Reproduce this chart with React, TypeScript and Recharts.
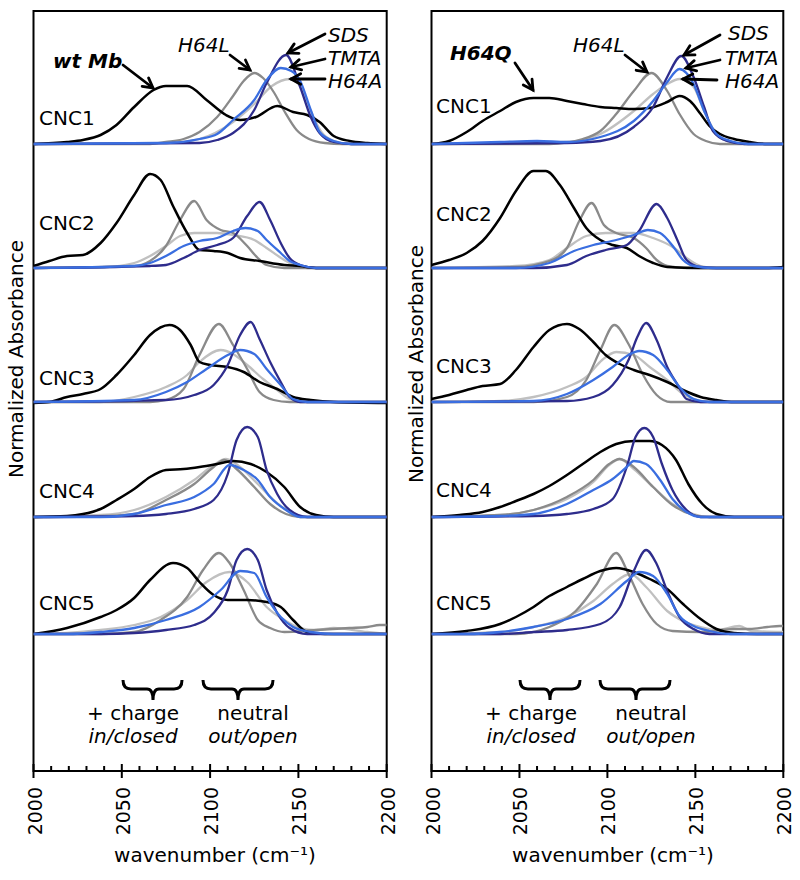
import { LineChart, Line, XAxis, YAxis, ReferenceArea } from 'recharts'

type Pt = [number, number]

// [wavenumber (cm-1), normalized absorbance]

// ---- wt Mb panel ----
const wt_CNC1_self: Pt[] = [[2000,0],[2019,0.02],[2028,0.04],[2038,0.09],[2047,0.19],[2057,0.37],[2068,0.54],[2075,0.58],[2087,0.58],[2098,0.44],[2109,0.29],[2117,0.24],[2126,0.27],[2138,0.38],[2147,0.32],[2155,0.29],[2162,0.22],[2170,0.08],[2179,0.03],[2189,0.01],[2200,0]]
const wt_CNC1_H64L: Pt[] = [[2000,0],[2066,0],[2075,0.02],[2085,0.05],[2094,0.12],[2104,0.27],[2113,0.48],[2119,0.63],[2125,0.71],[2130,0.66],[2136,0.52],[2142,0.33],[2149,0.14],[2156,0.05],[2165,0.01],[2175,0],[2200,0]]
const wt_CNC1_H64A: Pt[] = [[2000,0],[2075,0.01],[2094,0.05],[2113,0.22],[2125,0.40],[2135,0.58],[2145,0.65],[2151,0.58],[2157,0.33],[2163,0.12],[2170,0.03],[2180,0],[2200,0]]
const wt_CNC1_TMTA: Pt[] = [[2000,0],[2075,0.01],[2094,0.05],[2104,0.10],[2113,0.24],[2125,0.44],[2132,0.64],[2140,0.76],[2146,0.73],[2151,0.63],[2157,0.34],[2162,0.12],[2170,0.03],[2180,0],[2200,0]]
const wt_CNC1_SDS: Pt[] = [[2000,0],[2094,0.01],[2104,0.04],[2113,0.11],[2125,0.34],[2132,0.61],[2143,0.89],[2151,0.57],[2157,0.27],[2162,0.11],[2170,0.02],[2180,0],[2200,0]]

const wt_CNC2_self: Pt[] = [[2000,0.02],[2009,0.07],[2019,0.12],[2028,0.13],[2038,0.25],[2047,0.45],[2057,0.73],[2066,0.94],[2072,0.88],[2079,0.62],[2087,0.35],[2094,0.18],[2102,0.17],[2110,0.15],[2117,0.10],[2128,0.07],[2142,0.03],[2151,0.02],[2160,0],[2200,0]]
const wt_CNC2_H64L: Pt[] = [[2000,0],[2057,0.02],[2066,0.07],[2075,0.22],[2083,0.48],[2091,0.67],[2098,0.48],[2106,0.38],[2113,0.35],[2121,0.22],[2127,0.10],[2132,0.03],[2142,0],[2200,0]]
const wt_CNC2_H64A: Pt[] = [[2000,0],[2040,0.01],[2057,0.05],[2066,0.12],[2075,0.22],[2083,0.32],[2091,0.35],[2104,0.35],[2113,0.33],[2125,0.28],[2132,0.20],[2142,0.08],[2147,0.03],[2155,0],[2200,0]]
const wt_CNC2_TMTA: Pt[] = [[2000,0],[2057,0.02],[2066,0.05],[2075,0.12],[2085,0.22],[2094,0.27],[2104,0.30],[2113,0.37],[2120,0.40],[2127,0.37],[2132,0.28],[2140,0.15],[2145,0.07],[2151,0.03],[2160,0],[2200,0]]
const wt_CNC2_SDS: Pt[] = [[2000,0],[2066,0.02],[2075,0.03],[2085,0.10],[2094,0.18],[2104,0.23],[2113,0.30],[2121,0.52],[2128,0.66],[2134,0.48],[2140,0.25],[2145,0.10],[2151,0.03],[2160,0],[2200,0]]

const wt_CNC3_self: Pt[] = [[2000,-0.01],[2009,0],[2019,0.05],[2028,0.08],[2038,0.13],[2047,0.27],[2057,0.47],[2066,0.67],[2077,0.77],[2083,0.72],[2089,0.57],[2094,0.40],[2100,0.37],[2110,0.35],[2119,0.30],[2128,0.20],[2138,0.13],[2147,0.05],[2157,0.02],[2170,0],[2200,-0.01]]
const wt_CNC3_H64L: Pt[] = [[2000,0],[2066,0],[2075,0.02],[2085,0.13],[2094,0.47],[2105,0.78],[2113,0.57],[2121,0.33],[2128,0.10],[2136,0.02],[2145,0],[2200,0]]
const wt_CNC3_H64A: Pt[] = [[2000,0],[2038,0],[2057,0.05],[2075,0.15],[2087,0.27],[2094,0.40],[2106,0.52],[2113,0.48],[2121,0.37],[2130,0.23],[2138,0.12],[2145,0.03],[2155,0],[2200,0]]
const wt_CNC3_TMTA: Pt[] = [[2000,0],[2057,0.02],[2075,0.10],[2087,0.20],[2098,0.33],[2110,0.47],[2117,0.52],[2125,0.48],[2132,0.33],[2140,0.17],[2147,0.03],[2155,0],[2200,0]]
const wt_CNC3_SDS: Pt[] = [[2000,0],[2075,0.02],[2091,0.07],[2102,0.17],[2110,0.37],[2117,0.67],[2123,0.80],[2128,0.63],[2134,0.40],[2140,0.20],[2145,0.05],[2151,0],[2200,0]]

const wt_CNC4_self: Pt[] = [[2000,0],[2019,0.01],[2028,0.03],[2038,0.08],[2047,0.17],[2057,0.28],[2066,0.40],[2075,0.47],[2085,0.48],[2094,0.50],[2104,0.53],[2113,0.56],[2123,0.53],[2132,0.45],[2142,0.30],[2151,0.10],[2160,0.02],[2170,0],[2200,0]]
const wt_CNC4_H64L: Pt[] = [[2000,0],[2040,0.01],[2057,0.03],[2075,0.17],[2091,0.33],[2102,0.50],[2108,0.57],[2115,0.48],[2125,0.30],[2134,0.13],[2143,0.03],[2151,0],[2200,0]]
const wt_CNC4_H64A: Pt[] = [[2000,0],[2038,0.02],[2057,0.07],[2075,0.20],[2091,0.37],[2102,0.52],[2109,0.58],[2117,0.50],[2127,0.33],[2136,0.17],[2145,0.05],[2155,0],[2200,0]]
const wt_CNC4_TMTA: Pt[] = [[2000,0],[2038,0],[2057,0.03],[2075,0.12],[2091,0.20],[2102,0.33],[2111,0.52],[2119,0.47],[2127,0.37],[2134,0.20],[2143,0.07],[2151,0],[2200,0]]
const wt_CNC4_SDS: Pt[] = [[2000,0],[2057,0.01],[2075,0.03],[2091,0.08],[2102,0.17],[2110,0.43],[2115,0.77],[2121,0.90],[2127,0.80],[2132,0.47],[2138,0.23],[2145,0.07],[2155,0],[2200,0]]

const wt_CNC5_self: Pt[] = [[2000,0],[2019,0.06],[2038,0.17],[2047,0.24],[2057,0.36],[2066,0.54],[2079,0.71],[2087,0.66],[2094,0.52],[2102,0.39],[2110,0.34],[2121,0.34],[2132,0.32],[2140,0.27],[2147,0.14],[2155,0.02],[2165,0],[2200,0]]
const wt_CNC5_H64L: Pt[] = [[2000,0],[2038,0],[2057,0.02],[2072,0.14],[2087,0.37],[2096,0.64],[2105,0.81],[2111,0.71],[2119,0.44],[2127,0.14],[2134,0.06],[2142,0.02],[2160,0.04],[2179,0.06],[2189,0.07],[2196,0.09],[2200,0.09]]
const wt_CNC5_H64A: Pt[] = [[2000,0],[2019,0.01],[2038,0.04],[2057,0.09],[2072,0.17],[2087,0.34],[2098,0.52],[2111,0.62],[2121,0.52],[2132,0.27],[2142,0.14],[2151,0.06],[2160,0.04],[2170,0.06],[2189,0.02],[2200,0]]
const wt_CNC5_TMTA: Pt[] = [[2000,0],[2019,0],[2038,0.02],[2057,0.06],[2075,0.14],[2094,0.27],[2106,0.44],[2117,0.63],[2125,0.61],[2132,0.37],[2140,0.17],[2147,0.07],[2157,0.02],[2170,0],[2200,0]]
const wt_CNC5_SDS: Pt[] = [[2000,0],[2038,0],[2057,0.01],[2075,0.04],[2091,0.09],[2102,0.21],[2110,0.44],[2115,0.74],[2121,0.85],[2127,0.74],[2132,0.44],[2138,0.21],[2145,0.06],[2155,0],[2200,0]]

// ---- H64Q panel ----
const q_CNC1_self: Pt[] = [[2000,0],[2010,0.03],[2020,0.12],[2029,0.23],[2039,0.33],[2048,0.42],[2058,0.46],[2067,0.46],[2077,0.43],[2086,0.40],[2096,0.37],[2105,0.36],[2115,0.35],[2124,0.36],[2134,0.42],[2141,0.48],[2147,0.43],[2153,0.30],[2158,0.18],[2164,0.10],[2172,0.05],[2181,0.02],[2191,0],[2200,0]]
const q_CNC1_H64L: Pt[] = [[2000,0],[2067,0],[2086,0.05],[2096,0.13],[2105,0.30],[2115,0.53],[2125,0.71],[2134,0.53],[2141,0.30],[2149,0.10],[2156,0.03],[2164,0],[2200,0]]
const q_CNC1_H64A: Pt[] = [[2000,0],[2077,0.02],[2096,0.10],[2115,0.33],[2126,0.50],[2134,0.60],[2141,0.65],[2149,0.57],[2155,0.33],[2162,0.10],[2170,0.02],[2180,0],[2200,0]]
const q_CNC1_TMTA: Pt[] = [[2000,0],[2039,0.02],[2060,0.03],[2077,0.02],[2096,0.07],[2115,0.23],[2126,0.43],[2134,0.62],[2141,0.75],[2149,0.60],[2155,0.33],[2162,0.10],[2170,0.03],[2180,0],[2200,0]]
const q_CNC1_SDS: Pt[] = [[2000,0],[2077,0.01],[2096,0.03],[2115,0.17],[2126,0.37],[2134,0.67],[2142,0.88],[2149,0.67],[2155,0.37],[2160,0.13],[2168,0.03],[2178,0],[2200,0]]

const q_CNC2_self: Pt[] = [[2000,0.03],[2010,0.08],[2020,0.15],[2029,0.27],[2039,0.50],[2048,0.77],[2058,0.97],[2065,0.97],[2073,0.83],[2081,0.60],[2088,0.40],[2096,0.28],[2103,0.23],[2111,0.20],[2118,0.12],[2126,0.05],[2134,0.01],[2153,0],[2190,0],[2200,0.01]]
const q_CNC2_H64L: Pt[] = [[2000,0],[2048,0.01],[2067,0.07],[2077,0.20],[2084,0.47],[2091,0.65],[2098,0.43],[2105,0.35],[2115,0.30],[2122,0.20],[2128,0.08],[2134,0.02],[2145,0],[2200,0]]
const q_CNC2_H64A: Pt[] = [[2000,0],[2048,0.02],[2067,0.08],[2077,0.20],[2088,0.32],[2099,0.35],[2115,0.35],[2126,0.30],[2138,0.20],[2145,0.10],[2153,0.02],[2162,0],[2200,0]]
const q_CNC2_TMTA: Pt[] = [[2000,0],[2048,0],[2067,0.05],[2081,0.17],[2092,0.23],[2105,0.28],[2115,0.33],[2123,0.38],[2130,0.35],[2138,0.20],[2143,0.08],[2149,0.02],[2160,0],[2200,0]]
const q_CNC2_SDS: Pt[] = [[2000,0],[2058,0],[2077,0.03],[2088,0.12],[2099,0.18],[2111,0.23],[2118,0.37],[2128,0.64],[2134,0.50],[2140,0.27],[2145,0.08],[2153,0.01],[2162,0],[2200,0]]

const q_CNC3_self: Pt[] = [[2000,0.03],[2010,0.07],[2020,0.12],[2029,0.16],[2039,0.18],[2048,0.32],[2058,0.55],[2067,0.72],[2077,0.78],[2084,0.73],[2092,0.60],[2099,0.47],[2107,0.38],[2115,0.32],[2124,0.27],[2134,0.20],[2143,0.12],[2153,0.05],[2162,0.02],[2172,0],[2200,0]]
const q_CNC3_H64L: Pt[] = [[2000,0],[2058,0],[2077,0.05],[2088,0.22],[2096,0.52],[2104,0.77],[2112,0.58],[2120,0.28],[2128,0.07],[2136,0],[2200,0]]
const q_CNC3_H64A: Pt[] = [[2000,0],[2039,0.01],[2058,0.05],[2077,0.15],[2088,0.25],[2097,0.42],[2105,0.50],[2115,0.47],[2124,0.35],[2134,0.22],[2143,0.08],[2151,0.02],[2160,0],[2200,0]]
const q_CNC3_TMTA: Pt[] = [[2000,0],[2058,0.01],[2077,0.08],[2092,0.22],[2103,0.35],[2112,0.47],[2118,0.51],[2126,0.47],[2134,0.32],[2141,0.15],[2149,0.03],[2158,0],[2200,0]]
const q_CNC3_SDS: Pt[] = [[2000,0],[2077,0.01],[2092,0.05],[2103,0.17],[2112,0.42],[2117,0.65],[2122,0.79],[2128,0.62],[2134,0.35],[2140,0.17],[2145,0.03],[2153,0],[2200,0]]

const q_CNC4_self: Pt[] = [[2000,0],[2016,0.02],[2029,0.05],[2039,0.10],[2048,0.16],[2058,0.23],[2067,0.31],[2077,0.42],[2086,0.53],[2096,0.65],[2105,0.73],[2115,0.76],[2124,0.76],[2131,0.72],[2139,0.57],[2146,0.33],[2154,0.13],[2162,0.03],[2172,0],[2200,0]]
const q_CNC4_H64L: Pt[] = [[2000,0],[2039,0.02],[2058,0.07],[2077,0.20],[2092,0.37],[2101,0.53],[2107,0.58],[2115,0.50],[2126,0.30],[2137,0.12],[2149,0.02],[2158,0],[2200,0]]
const q_CNC4_H64A: Pt[] = [[2000,0],[2039,0.02],[2058,0.07],[2077,0.18],[2092,0.35],[2101,0.52],[2107,0.58],[2115,0.48],[2126,0.30],[2137,0.13],[2149,0.03],[2158,0],[2200,0]]
const q_CNC4_TMTA: Pt[] = [[2000,0],[2039,0.01],[2058,0.03],[2077,0.13],[2092,0.27],[2103,0.38],[2111,0.50],[2115,0.56],[2122,0.53],[2130,0.37],[2137,0.18],[2145,0.05],[2153,0],[2200,0]]
const q_CNC4_SDS: Pt[] = [[2000,0],[2058,0.01],[2077,0.03],[2092,0.08],[2103,0.18],[2111,0.50],[2116,0.80],[2121,0.89],[2126,0.80],[2131,0.53],[2137,0.27],[2145,0.07],[2153,0],[2200,0]]

const q_CNC5_self: Pt[] = [[2000,0],[2020,0.03],[2039,0.10],[2048,0.17],[2058,0.27],[2067,0.38],[2077,0.47],[2086,0.55],[2096,0.63],[2105,0.66],[2115,0.62],[2124,0.55],[2134,0.45],[2143,0.30],[2153,0.15],[2162,0.05],[2172,0.01],[2185,0],[2200,0]]
const q_CNC5_H64L: Pt[] = [[2000,0],[2048,0],[2067,0.07],[2082,0.23],[2094,0.50],[2105,0.81],[2112,0.60],[2120,0.30],[2128,0.10],[2137,0.03],[2153,0.02],[2172,0.05],[2181,0.05],[2191,0.07],[2198,0.08],[2200,0.08]]
const q_CNC5_H64A: Pt[] = [[2000,0],[2039,0.02],[2058,0.07],[2077,0.17],[2092,0.33],[2103,0.50],[2113,0.60],[2122,0.47],[2134,0.23],[2143,0.13],[2153,0.07],[2162,0.04],[2175,0.08],[2182,0.03],[2200,0.02]]
const q_CNC5_TMTA: Pt[] = [[2000,0],[2020,0],[2039,0.02],[2058,0.07],[2077,0.15],[2096,0.30],[2111,0.53],[2118,0.62],[2126,0.58],[2134,0.40],[2141,0.18],[2149,0.08],[2158,0.03],[2170,0],[2200,0]]
const q_CNC5_SDS: Pt[] = [[2000,0],[2039,0],[2058,0.02],[2077,0.04],[2096,0.10],[2107,0.27],[2115,0.63],[2122,0.84],[2128,0.70],[2134,0.43],[2141,0.17],[2149,0.05],[2158,0],[2200,0]]

const rowLabels = ['CNC1', 'CNC2', 'CNC3', 'CNC4', 'CNC5']
const majorTicks = [2000, 2050, 2100, 2150, 2200]
const allTicks = [2000, 2010, 2020, 2030, 2040, 2050, 2060, 2070, 2080, 2090, 2100, 2110, 2120, 2130, 2140, 2150, 2160, 2170, 2180, 2190, 2200]

// series order inside a row: self, H64L, H64A, TMTA, SDS
const wtRows = [
  [wt_CNC1_self, wt_CNC1_H64L, wt_CNC1_H64A, wt_CNC1_TMTA, wt_CNC1_SDS],
  [wt_CNC2_self, wt_CNC2_H64L, wt_CNC2_H64A, wt_CNC2_TMTA, wt_CNC2_SDS],
  [wt_CNC3_self, wt_CNC3_H64L, wt_CNC3_H64A, wt_CNC3_TMTA, wt_CNC3_SDS],
  [wt_CNC4_self, wt_CNC4_H64L, wt_CNC4_H64A, wt_CNC4_TMTA, wt_CNC4_SDS],
  [wt_CNC5_self, wt_CNC5_H64L, wt_CNC5_H64A, wt_CNC5_TMTA, wt_CNC5_SDS],
]
const qRows = [
  [q_CNC1_self, q_CNC1_H64L, q_CNC1_H64A, q_CNC1_TMTA, q_CNC1_SDS],
  [q_CNC2_self, q_CNC2_H64L, q_CNC2_H64A, q_CNC2_TMTA, q_CNC2_SDS],
  [q_CNC3_self, q_CNC3_H64L, q_CNC3_H64A, q_CNC3_TMTA, q_CNC3_SDS],
  [q_CNC4_self, q_CNC4_H64L, q_CNC4_H64A, q_CNC4_TMTA, q_CNC4_SDS],
  [q_CNC5_self, q_CNC5_H64L, q_CNC5_H64A, q_CNC5_TMTA, q_CNC5_SDS],
]

// layout / style
const FONT = '"DejaVu Sans", Verdana, sans-serif'
const colors = ['#000000', '#8a8a8a', '#c0c0c0', '#3a6ee0', '#2e2c8c']
const widths = [2.5, 2.3, 2.3, 2.3, 2.3]
const drawOrder = [2, 1, 0, 4, 3]
const rowBase = [6.27, 5.03, 3.69, 2.54, 1.37]
const Y_MAX = 7.6

function AxisTick(props: any) {
  const { x, y, payload } = props
  const major = majorTicks.includes(payload.value)
  return (
    <g>
      <line x1={x} x2={x} y1={major ? y - 7 : y - 5} y2={major ? y + 7 : y} stroke="#000" strokeWidth={2} />
      {major && (
        <text
          transform={`translate(${x + 8},${y + 16}) rotate(-90)`}
          textAnchor="end"
          fontSize={19}
          fontFamily={FONT}
          fill="#000"
        >
          {payload.value}
        </text>
      )}
    </g>
  )
}

function Panel({ rows, left, mLeft, mRight }: { rows: Pt[][][]; left: number; mLeft: number; mRight: number }) {
  return (
    <div style={{ position: 'absolute', left, top: 0 }}>
      <LineChart width={400} height={880} margin={{ top: 11, right: mRight, bottom: 9, left: mLeft }}>
        <XAxis
          type="number"
          dataKey="x"
          domain={[2000, 2200]}
          ticks={allTicks}
          interval={0}
          height={100}
          tickSize={0}
          tickMargin={0}
          tickLine={false}
          axisLine={{ stroke: '#000', strokeWidth: 2 }}
          tick={(p: any) => <AxisTick {...p} />}
          allowDataOverflow
        />
        <YAxis type="number" domain={[0, Y_MAX]} hide allowDataOverflow />
        <ReferenceArea x1={2000} x2={2200} y1={0} y2={Y_MAX} fill="none" stroke="#000" strokeWidth={2} ifOverflow="visible" />
        {rows.flatMap((row, r) =>
          drawOrder.map(s => (
            <Line
              key={`r${r}s${s}`}
              data={row[s].map(([x, a]) => ({ x, y: a + rowBase[r] }))}
              dataKey="y"
              type="monotone"
              stroke={colors[s]}
              strokeWidth={widths[s]}
              dot={false}
              activeDot={false}
              isAnimationActive={false}
            />
          ))
        )}
      </LineChart>
    </div>
  )
}

function Arrow({ x1, y1, x2, y2 }: { x1: number; y1: number; x2: number; y2: number }) {
  const ang = Math.atan2(y2 - y1, x2 - x1)
  const L = 11
  const a1 = ang + Math.PI - 0.5
  const a2 = ang + Math.PI + 0.5
  return (
    <g stroke="#000" strokeWidth={2.8} fill="none" strokeLinecap="round">
      <line x1={x1} y1={y1} x2={x2} y2={y2} />
      <polyline points={`${x2 + L * Math.cos(a1)},${y2 + L * Math.sin(a1)} ${x2},${y2} ${x2 + L * Math.cos(a2)},${y2 + L * Math.sin(a2)}`} />
    </g>
  )
}

function Brace({ x1, x2, tip }: { x1: number; x2: number; tip: number }) {
  const top = 680
  const bar = 689
  const d = `M${x1},${top} Q${x1},${bar} ${x1 + 8},${bar} L${tip - 6},${bar} Q${tip},${bar} ${tip},${bar + 11} Q${tip},${bar} ${tip + 6},${bar} L${x2 - 8},${bar} Q${x2},${bar} ${x2},${top}`
  return <path d={d} stroke="#000" strokeWidth={3} fill="none" />
}

const T = (p: any) => <text fontFamily={FONT} fontSize={20} fill="#000" {...p} />

function Overlay() {
  const leftCNC = [125, 230, 385, 498, 610]
  const rightCNC = [113, 221, 373, 497, 610]
  return (
    <svg width={800} height={880} style={{ position: 'absolute', left: 0, top: 0, pointerEvents: 'none' }}>
      {rowLabels.map((l, i) => <T key={`l${l}`} x={39} y={leftCNC[i]}>{l}</T>)}
      {rowLabels.map((l, i) => <T key={`r${l}`} x={436} y={rightCNC[i]}>{l}</T>)}

      <T x={23} y={359} textAnchor="middle" transform="rotate(-90,23,359)">Normalized Absorbance</T>
      <T x={423} y={364} textAnchor="middle" transform="rotate(-90,423,364)">Normalized Absorbance</T>

      <T x={215} y={862} textAnchor="middle">wavenumber (cm⁻¹)</T>
      <T x={613} y={862} textAnchor="middle">wavenumber (cm⁻¹)</T>

      {/* left labels */}
      <T x={53} y={68} fontWeight="bold" fontStyle="italic">wt Mb</T>
      <T x={178} y={52} fontStyle="italic">H64L</T>
      <T x={328} y={42} fontStyle="italic">SDS</T>
      <T x={328} y={65} fontStyle="italic">TMTA</T>
      <T x={328} y={88} fontStyle="italic">H64A</T>
      <Arrow x1={123} y1={65} x2={153} y2={88} />
      <Arrow x1={230} y1={55} x2={250} y2={70} />
      <Arrow x1={325} y1={34} x2={288} y2={53} />
      <Arrow x1={325} y1={59} x2={291} y2={67} />
      <Arrow x1={325} y1={79} x2={291} y2={79} />

      {/* right labels */}
      <T x={450} y={60} fontWeight="bold" fontStyle="italic">H64Q</T>
      <T x={573} y={52} fontStyle="italic">H64L</T>
      <T x={728} y={40} fontStyle="italic">SDS</T>
      <T x={725} y={65} fontStyle="italic">TMTA</T>
      <T x={725} y={88} fontStyle="italic">H64A</T>
      <Arrow x1={515} y1={63} x2={533} y2={90} />
      <Arrow x1={625} y1={55} x2={647} y2={72} />
      <Arrow x1={720} y1={35} x2={684} y2={55} />
      <Arrow x1={720} y1={60} x2={686} y2={68} />
      <Arrow x1={717} y1={80} x2={683} y2={79} />

      {/* bottom annotations */}
      <Brace x1={123} x2={182} tip={153} />
      <Brace x1={203} x2={273} tip={238} />
      <T x={133} y={720} textAnchor="middle">+ charge</T>
      <T x={133} y={743} textAnchor="middle" fontStyle="italic">in/closed</T>
      <T x={253} y={720} textAnchor="middle">neutral</T>
      <T x={253} y={743} textAnchor="middle" fontStyle="italic">out/open</T>

      <Brace x1={520} x2={580} tip={550} />
      <Brace x1={600} x2={670} tip={636} />
      <T x={531} y={720} textAnchor="middle">+ charge</T>
      <T x={531} y={743} textAnchor="middle" fontStyle="italic">in/closed</T>
      <T x={651} y={720} textAnchor="middle">neutral</T>
      <T x={651} y={743} textAnchor="middle" fontStyle="italic">out/open</T>
    </svg>
  )
}

export default function App() {
  return (
    <div style={{ position: 'absolute', left: 0, top: 0, width: 800, height: 880, background: '#fff' }}>
      <Panel rows={wtRows} left={0} mLeft={33.5} mRight={13.3} />
      <Panel rows={qRows} left={398} mLeft={33.5} mRight={14.7} />
      <Overlay />
    </div>
  )
}
